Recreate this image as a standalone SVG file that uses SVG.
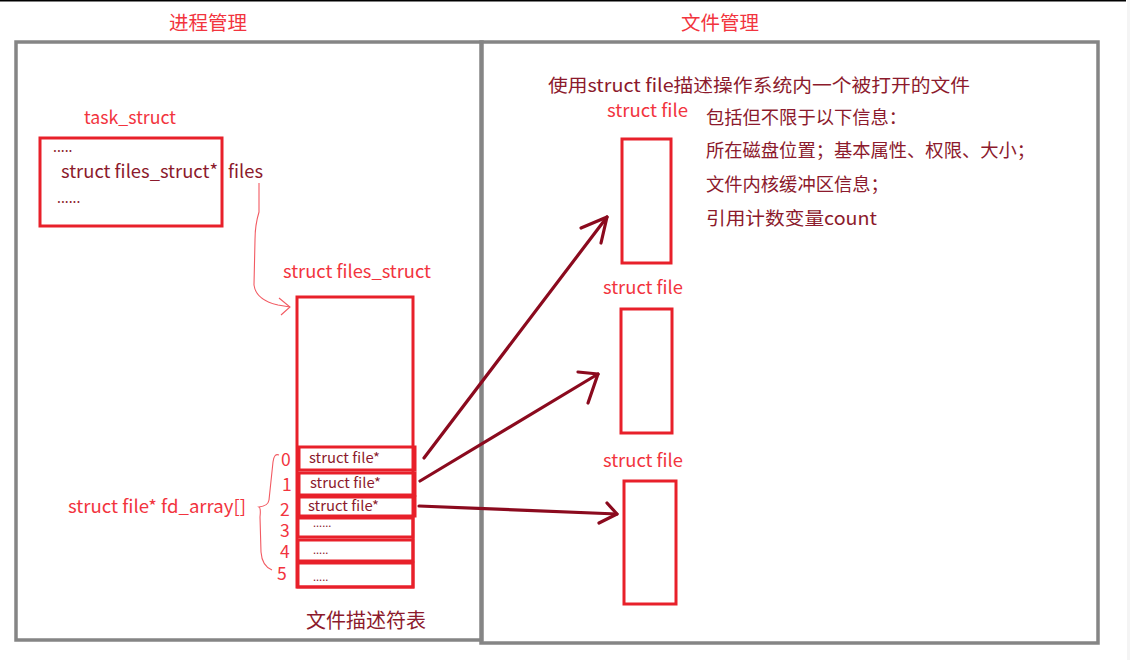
<svg xmlns="http://www.w3.org/2000/svg" width="1130" height="660" viewBox="0 0 1130 660">
<style>
.frame{fill:none;stroke:#858585;stroke-width:3.5}
.box{fill:none;stroke:#e8202a;stroke-width:3}
.lbl{fill:#f2343e;font-family:"Noto Sans CJK SC","Noto Sans",sans-serif;font-size:18px}
.ttl{fill:#f2343e;font-family:"Noto Sans CJK SC","Noto Sans",sans-serif;font-size:19.5px}
.dk{fill:#8c1a2c;font-family:"Noto Sans CJK SC","Noto Sans",sans-serif;font-size:18.3px}
.sm{fill:#8c1a2c;font-family:"Noto Sans CJK SC","Noto Sans",sans-serif;font-size:14px}
.dots{fill:#8c1a2c;font-family:"Noto Sans CJK SC","Noto Sans",sans-serif;font-size:11px}
.num{fill:#f2343e;font-family:"Noto Sans CJK SC","Noto Sans",sans-serif;font-size:17.5px}
.cap{fill:#8c1a2c;font-family:"Noto Sans CJK SC","Noto Sans",sans-serif;font-size:20px}
.arr{fill:none;stroke:#8b0a1e;stroke-width:3.2;stroke-linecap:round;stroke-linejoin:round}
.thin{fill:none;stroke:#f25a62;stroke-width:1.1}
</style>
<rect x="0" y="0" width="1130" height="660" fill="#ffffff"/>
<rect x="1127" y="0" width="3" height="660" fill="#f4f4f4"/>
<line x1="0" y1="0.5" x2="1126" y2="0.5" stroke="#000" stroke-width="2"/>

<g id="process-mgmt">
  <rect class="frame" x="16" y="42" width="466" height="598"/>
  <text class="ttl" x="169" y="30">进程管理</text>
</g>
<g id="file-mgmt">
  <rect class="frame" x="481" y="42" width="617" height="601"/>
  <text class="ttl" x="681" y="30">文件管理</text>
  <text class="dk" x="548" y="92" textLength="422" lengthAdjust="spacingAndGlyphs">使用struct file描述操作系统内一个被打开的文件</text>
  <text class="dk" x="706" y="124">包括但不限于以下信息：</text>
  <text class="dk" x="706" y="157">所在磁盘位置；基本属性、权限、大小；</text>
  <text class="dk" x="706" y="191">文件内核缓冲区信息；</text>
  <text class="dk" x="706" y="225" textLength="171" lengthAdjust="spacingAndGlyphs">引用计数变量count</text>
</g>

<g id="task-struct">
  <text class="lbl" x="84" y="124" textLength="92" lengthAdjust="spacingAndGlyphs">task_struct</text>
  <rect class="box" x="40" y="138" width="182" height="88"/>
  <text class="sm" x="53" y="152">.....</text>
  <text class="dk" x="61" y="178" textLength="157" lengthAdjust="spacingAndGlyphs">struct files_struct*</text>
  <text class="dk" x="228" y="178" textLength="35" lengthAdjust="spacingAndGlyphs">files</text>
  <text class="sm" x="57" y="203">......</text>
</g>

<g id="files-struct">
  <text class="lbl" x="283" y="278" textLength="148" lengthAdjust="spacingAndGlyphs">struct files_struct</text>
  <rect class="box" x="297" y="297" width="116" height="290"/>
  <rect class="box" x="299" y="447" width="116" height="23"/>
  <rect class="box" x="299" y="473" width="116" height="22"/>
  <rect class="box" x="299" y="497" width="116" height="19"/>
  <rect class="box" x="298" y="518" width="115" height="19"/>
  <rect class="box" x="298" y="540" width="115" height="21"/>
  <rect class="box" x="298" y="563" width="115" height="24"/>
  <text class="sm" x="309" y="463" textLength="71" lengthAdjust="spacingAndGlyphs">struct file*</text>
  <text class="sm" x="310" y="488" textLength="71" lengthAdjust="spacingAndGlyphs">struct file*</text>
  <text class="sm" x="308" y="511" textLength="71" lengthAdjust="spacingAndGlyphs">struct file*</text>
  <text class="dots" x="313" y="527">......</text>
  <text class="dots" x="313" y="554">.....</text>
  <text class="dots" x="313" y="581">.....</text>
  <text class="num" x="281" y="466">0</text>
  <text class="num" x="282" y="491">1</text>
  <text class="num" x="280" y="516">2</text>
  <text class="num" x="280" y="537">3</text>
  <text class="num" x="280" y="558">4</text>
  <text class="num" x="277" y="580">5</text>
  <text class="cap" x="306" y="628">文件描述符表</text>
</g>

<g id="fd-array">
  <text class="lbl" x="68" y="513" textLength="178" lengthAdjust="spacingAndGlyphs">struct file* fd_array[]</text>
  <path class="thin" d="M279,455 Q274,453 273,462 L269,500 Q268,506 259,507 Q261,508 260,517 L261,552 Q262,566 272,570"/>
</g>

<g id="file0">
  <text class="lbl" x="607" y="117" textLength="81" lengthAdjust="spacingAndGlyphs">struct file</text>
  <rect class="box" x="622" y="139" width="49" height="124"/>
</g>
<g id="file1">
  <text class="lbl" x="603" y="294" textLength="80" lengthAdjust="spacingAndGlyphs">struct file</text>
  <rect class="box" x="621" y="309" width="51" height="124"/>
</g>
<g id="file2">
  <text class="lbl" x="603" y="467" textLength="80" lengthAdjust="spacingAndGlyphs">struct file</text>
  <rect class="box" x="624" y="481" width="52" height="123"/>
</g>

<g id="connectors">
  <path class="thin" d="M259,183 L259,212 Q255,225 255,240 L254,285 Q256,300 278,305 L290,307"/>
  <path class="thin" d="M279,298 L290,307 L281,315"/>
  <path class="arr" d="M424,458 L607,217"/>
  <path class="arr" d="M581,228 L607,217 L601,243"/>
  <path class="arr" d="M420,481 L598,374"/>
  <path class="arr" d="M578,372 L598,374 L588,403"/>
  <path class="arr" d="M419,506 L617,514"/>
  <path class="arr" d="M607,503 L617,514 L599,523"/>
</g>
</svg>
